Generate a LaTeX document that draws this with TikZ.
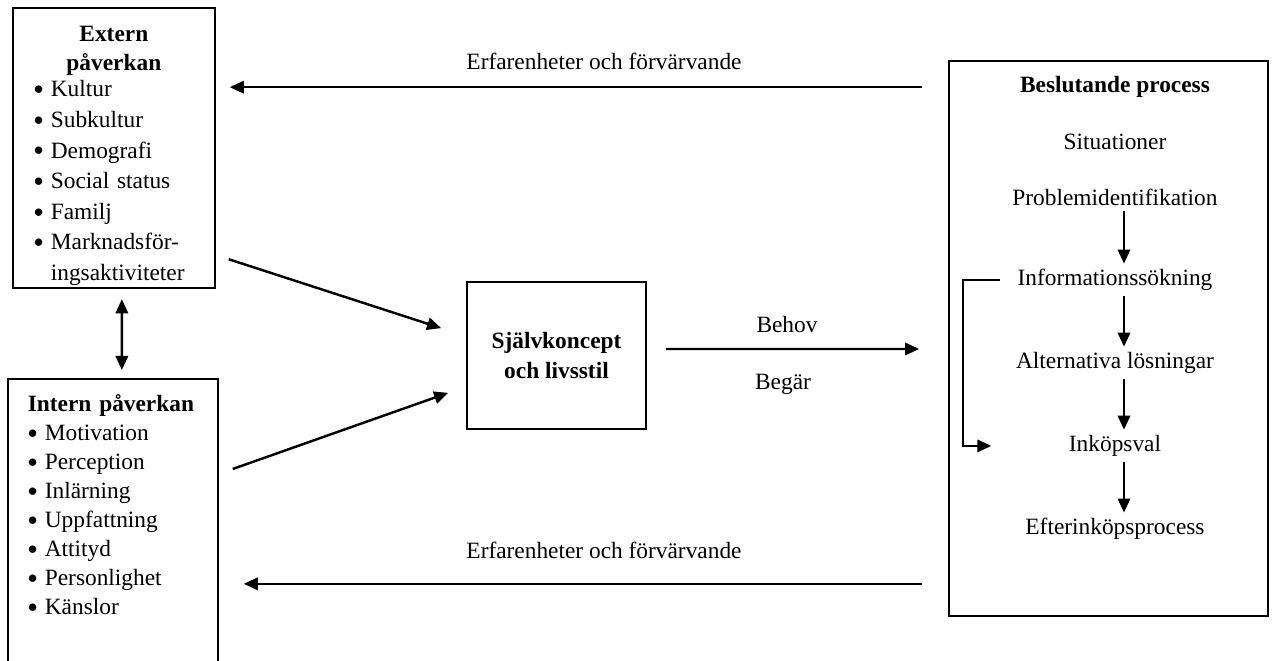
\documentclass[tikz,border=0pt]{standalone}
\usepackage{fontspec}
\setmainfont{Liberation Serif}
\usetikzlibrary{arrows.meta,positioning}

\tikzstyle{box} = [rectangle, draw=black, line width=1pt]
\tikzstyle{listbox} = [box, align=left]
\tikzstyle{stage} = [inner sep=3pt]
\tikzstyle{arrow} = [line width=1.4pt, -{Triangle[length=8pt,width=7pt]}]
\tikzstyle{dblarrow} = [line width=1.4pt, {Triangle[length=8pt,width=7pt]}-{Triangle[length=8pt,width=7pt]}]

\newcommand{\punkt}[1]{\par\hangindent=0.34cm\hangafter=1\noindent\makebox[0.34cm][l]{\raisebox{1.2pt}{\fontsize{11}{11}\selectfont$\bullet$}}#1}

\begin{document}
\fontsize{13.3}{17}\selectfont
\begin{tikzpicture}[x=0.02cm, y=-0.02cm, node distance=1.66cm]
	\useasboundingbox (0,0) rectangle (1279,661);
	
	\node (ext) [listbox, font=\fontsize{13.3}{17.4}\selectfont, anchor=north west, text width=3.2cm, inner xsep=0.42cm, inner ysep=0pt] at (12,7) {{\centering\bfseries\baselineskip=16.5pt\rule{0pt}{0.68cm}Extern\\påverkan\par}\vspace{-0.09cm}
		\punkt{Kultur}
		\punkt{Subkultur}
		\punkt{Demografi}
		\punkt{Social status}
		\punkt{Familj}
		\punkt{Marknadsför-\newline ingsaktiviteter\rule[-0.16cm]{0pt}{0.16cm}}\par};
	
	\node (int) [listbox, font=\fontsize{13.3}{16.5}\selectfont, anchor=north west, text width=3.4cm, inner xsep=0.4cm, inner ysep=0.32cm] at (7,378) {\textbf{Intern påverkan}
		\punkt{Motivation}
		\punkt{Perception}
		\punkt{Inlärning}
		\punkt{Uppfattning}
		\punkt{Attityd}
		\punkt{Personlighet}
		\punkt{Känslor}\par\rule{0pt}{1.8cm}};
	
	\node (self) [box, align=center, font=\bfseries, minimum width=3.58cm, minimum height=2.94cm] at (556.5,355.5) {Självkoncept\\och livsstil};
	
	\node (dec) [box, minimum width=6.38cm, minimum height=11.1cm] at (1108.5,338.5) {};
	
	\node (besl) [stage, font=\bfseries] at (1115,87) {Beslutande process};
	\node (sit) [stage, below of=besl, node distance=1.1cm] {Situationer};
	\node (prob) [stage, below of=sit, node distance=1.1cm] {Problemidentifikation};
	\node (info) [stage, below of=prob] {Informationssökning};
	\node (alt) [stage, below of=info] {Alternativa lösningar};
	\node (ink) [stage, below of=alt] {Inköpsval};
	\node (eft) [stage, below of=ink] {Efterinköpsprocess};
	
	\node (erf1) at (604,61) {Erfarenheter och förvärvande};
	\node (erf2) at (604,550) {Erfarenheter och förvärvande};
	\node (behov) at (787,325) {Behov};
	\node (begar) at (783,384) {Begär};
	
	%
	
	\draw[arrow] ([shift={(-26,27)}]dec.north west) coordinate (t1) -- ([xshift=0.28cm]ext.east |- t1);
	\draw[arrow] ([shift={(-26,-33)}]dec.south west) coordinate (b1) -- ([xshift=0.5cm]int.east |- b1);
	\draw[dblarrow] ([shift={(8,10)}]ext.south) -- ([shift={(9,-8)}]int.north);
	\draw[arrow] ([shift={(13,-30)}]ext.south east) -- ([shift={(-25,47)}]self.north west);
	\draw[arrow] ([shift={(14,91)}]int.north east) -- ([shift={(-18,-37)}]self.south west);
	\draw[arrow] ([shift={(19,-6.5)}]self.east) -- ([shift={(-29,10.5)}]dec.west);
	\draw[arrow] ([shift={(9,0)}]prob.south) -- ([shift={(9,0)}]info.north);
	\draw[arrow] ([shift={(9,0)}]info.south) -- ([shift={(9,0)}]alt.north);
	\draw[arrow] ([shift={(9,0)}]alt.south) -- ([shift={(9,0)}]ink.north);
	\draw[arrow] ([shift={(9,0)}]ink.south) -- ([shift={(9,0)}]eft.north);
	\draw[arrow] ([shift={(-12,0)}]info.west) -- ++(-37,0) |- ([shift={(-72,0)}]ink.west);
	
\end{tikzpicture}
\end{document}
